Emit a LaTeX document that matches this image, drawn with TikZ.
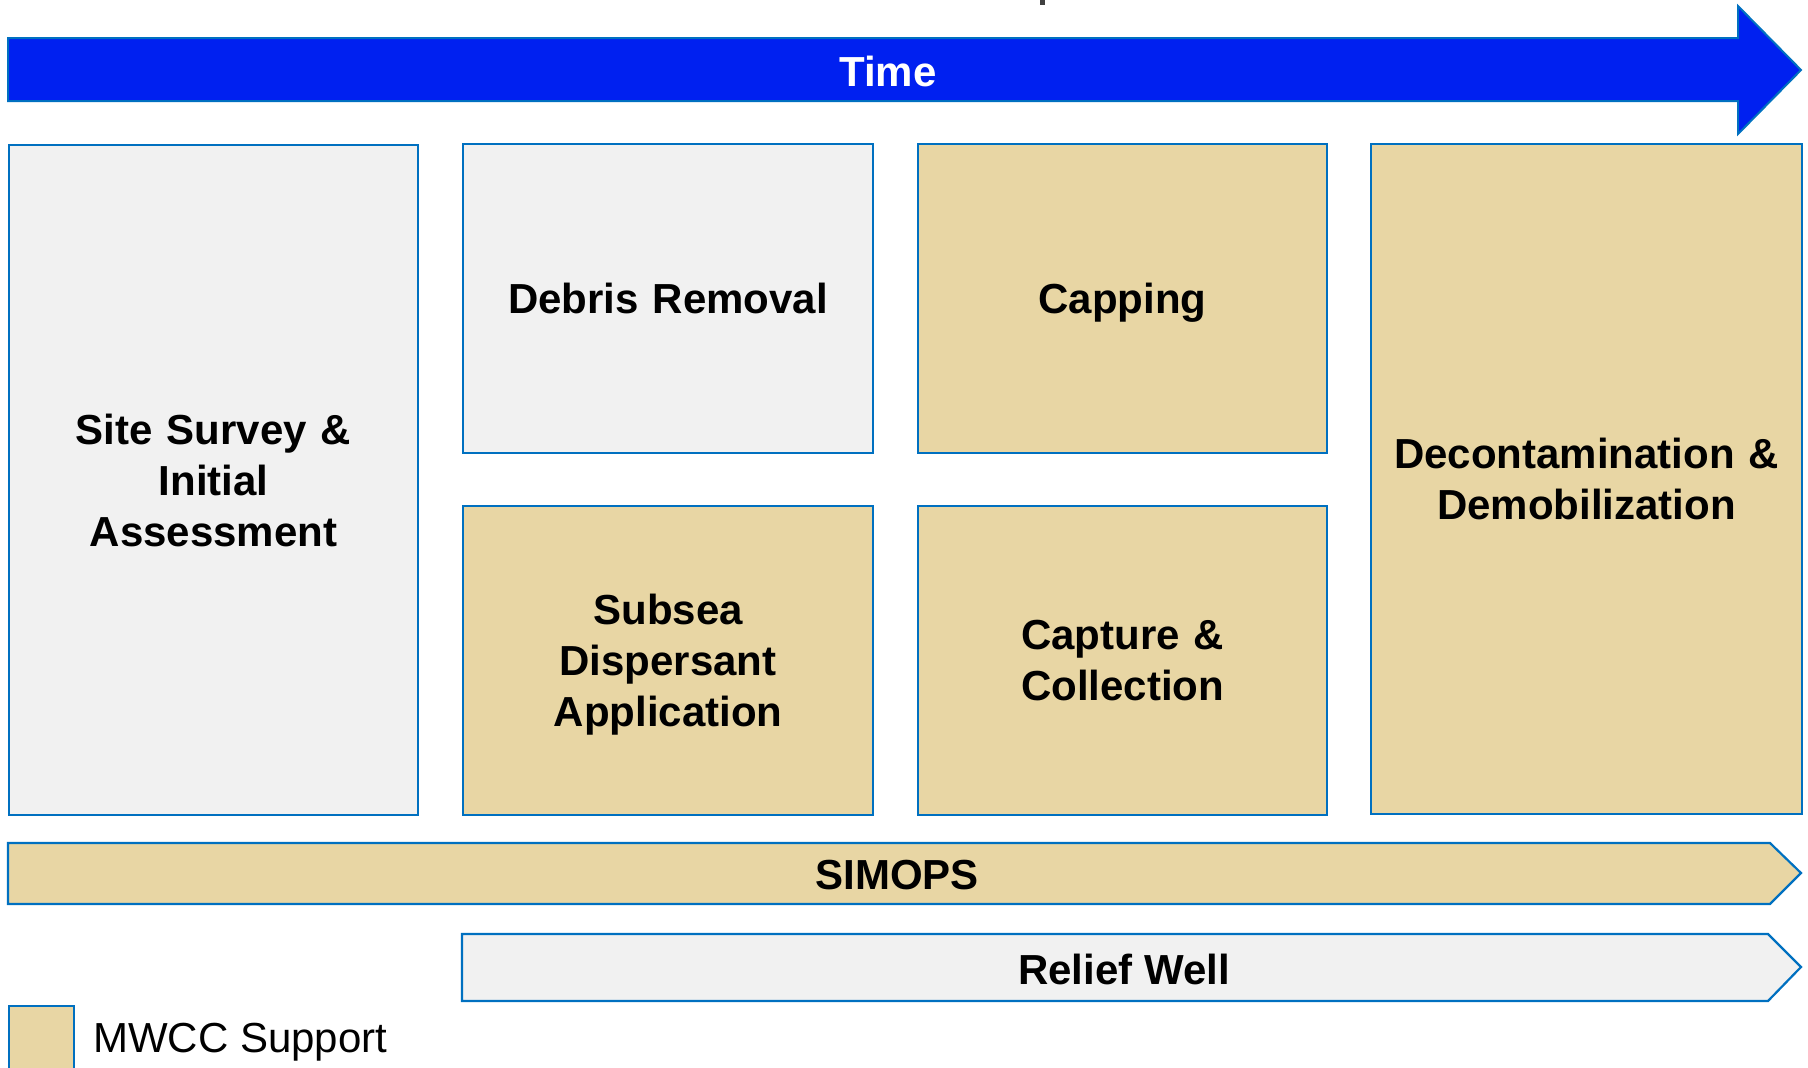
\documentclass[tikz,border=0pt]{standalone}
\usepackage{fontspec}
\setmainfont{Liberation Sans}
\definecolor{bord}{HTML}{0070C0}
\definecolor{timeblue}{HTML}{0020F0}
\definecolor{tan}{HTML}{E8D6A4}
\definecolor{lgray}{HTML}{F1F1F1}
\newcommand{\nodepth}[1]{\raisebox{0pt}[\height][0pt]{#1}}
\begin{document}
\begin{tikzpicture}[x=1pt,y=-1pt,
  phase/.style={draw=bord, line width=2.2pt, inner sep=0pt, anchor=north west, align=center,
    font=\bfseries\fontsize{42}{51}\selectfont},
  band/.style={draw=bord, line width=2.2pt, line join=miter},
  bandtext/.style={font=\bfseries\fontsize{42}{50}\selectfont, inner sep=0pt}]
\useasboundingbox (0,0) rectangle (1808,1068);
\clip (0,0) rectangle (1808,1068);
% cut-off mark at top
\fill[black!75] (1040,0) rectangle (1045,5);
% Time arrow
\draw[band, fill=timeblue, line width=2pt] (8,38) -- (1738,38) -- (1738,6) -- (1801,70) -- (1738,134) -- (1738,101) -- (8,101) -- cycle;
\node[bandtext, text=white] (time) at (888,71) {Time};
% phase boxes
\node[phase, fill=lgray, minimum width=409pt, minimum height=670pt, text width=380pt] (survey) at (8,144) {Site Survey \&\\Initial\\Assessment};
\node[phase, fill=lgray, minimum width=410pt, minimum height=309pt, text width=390pt] (debris) at (462,143) {Debris Removal};
\node[phase, fill=tan, minimum width=409pt, minimum height=309pt, text width=390pt] (capping) at (917,143) {\nodepth{Capping}};
\node[phase, fill=tan, minimum width=431pt, minimum height=670pt, text width=420pt] (decon) at (1370,143) {Decontamination \&\\Demobilization};
\node[phase, fill=tan, minimum width=410pt, minimum height=309pt, text width=390pt] (subsea) at (462,505) {Subsea\\Dispersant\\\nodepth{Application}};
\node[phase, fill=tan, minimum width=409pt, minimum height=309pt, text width=390pt] (capture) at (917,505) {Capture \&\\Collection};
% SIMOPS band
\draw[band, fill=tan] (8,843) -- (1770,843) -- (1801,873) -- (1770,904) -- (8,904) -- cycle;
\node[bandtext] (simops) at (897,875) {SIMOPS};
% Relief Well band
\draw[band, fill=lgray] (462,934) -- (1768,934) -- (1801,967) -- (1768,1001) -- (462,1001) -- cycle;
\node[bandtext] (relief) at (1124,969) {Relief Well};
% legend
\node[draw=bord, line width=2.2pt, fill=tan, anchor=north west, minimum width=65pt, minimum height=75pt, inner sep=0pt] (legbox) at (8,1005) {};
\node[anchor=base west, inner sep=0pt, font=\fontsize{42}{50}\selectfont] (legtext) at (93,1052) {MWCC Support};
\end{tikzpicture}
\end{document}
